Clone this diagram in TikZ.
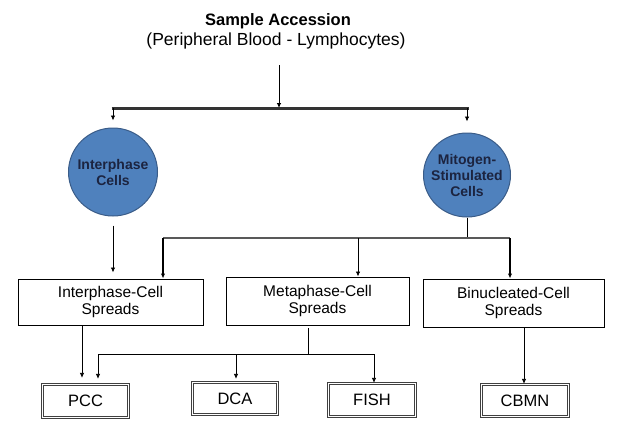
\documentclass[tikz,border=0pt]{standalone}
\usepackage{fontspec}
\setmainfont{Liberation Sans}
\usetikzlibrary{shapes.geometric,arrows.meta}
\definecolor{cellblue}{HTML}{4F81BD}
\definecolor{cellrim}{HTML}{3A5C88}
\definecolor{celltext}{HTML}{1C2440}

\begin{document}
\begin{tikzpicture}[x=1pt,y=-1pt,
  cell/.style={ellipse,draw=cellrim,line width=1pt,fill=cellblue,text=celltext,
    align=center,inner xsep=-6pt,inner ysep=-6pt,font=\fontsize{14}{16}\selectfont\bfseries},
  spread/.style={draw,line width=1pt,align=center,inner sep=0pt,
    font=\fontsize{15.5}{17}\selectfont},
  assay/.style={draw=black!75,double,double distance=1.3pt,line width=1.3pt,
    inner sep=0pt,font=\fontsize{16.5}{18}\selectfont},
  arr/.style={-{Latex[length=5pt,width=4.5pt]},line width=0.8pt},
  ]
\useasboundingbox (0,0) rectangle (629,432);

% sample
\node[font=\fontsize{16.5}{18}\selectfont\bfseries] (sample) at (278,21) {Sample Accession};
\node[font=\fontsize{17.5}{19}\selectfont] (source) at (276,41) {(Peripheral Blood - Lymphocytes)};

% cell types
\node[cell,minimum width=89pt,minimum height=88pt] (icell) at (113,172) {Interphase\\Cells};
\node[cell,minimum width=87pt,minimum height=84pt] (mcell) at (467,175) {Mitogen-\\Stimulated\\Cells};

% spreads
\node[spread,minimum width=185pt,minimum height=46pt] (ispread) at (110.5,302) {Interphase-Cell\\Spreads};
\node[spread,minimum width=183pt,minimum height=48pt] (mspread) at (317.5,301) {Metaphase-Cell\\Spreads};
\node[spread,minimum width=181pt,minimum height=48pt] (bspread) at (513.5,303) {Binucleated-Cell\\Spreads};

% assays
\node[assay,minimum width=86pt,minimum height=33pt] (pcc) at (85.5,401) {PCC};
\node[assay,minimum width=85pt,minimum height=32pt] (dca) at (235,398.5) {DCA};
\node[assay,minimum width=87pt,minimum height=33pt] (fish) at (372,400) {FISH};
\node[assay,minimum width=87pt,minimum height=32pt] (cbmn) at (525,400.5) {CBMN};

% sample -> cells
\coordinate (start) at (279,65);
\coordinate (split) at (279,108);
\draw[arr] (start) -- (split);
\draw[line width=3pt,black!80] ([xshift=-1.5pt]icell |- split) -- ([xshift=1.5pt]mcell |- split);
\draw[arr,shorten >=7pt] (icell |- split) -- (icell.north);
\draw[arr,shorten >=11pt] (mcell |- split) -- (mcell.north);

% cells -> spreads
\draw[arr,shorten >=6pt] (icell.south) ++(0,9) -- (icell |- ispread.north);
\coordinate (ijoin) at (163,238);
\coordinate (metajoin) at (358,238);
\coordinate (bjoin) at (510,238);
\draw[line width=0.8pt] (mcell.south) -- (mcell.south |- bjoin);
\draw[line width=1.5pt,black!65] (ijoin) -- (bjoin);
\draw[arr,line width=1.2pt] (ijoin) -- (ijoin |- ispread.north);
\draw[arr] (metajoin) -- (metajoin |- mspread.north);
\draw[arr,line width=1.2pt] (bjoin) -- (bjoin |- bspread.north);

% spreads -> assays
\coordinate (iout) at (82,326);
\draw[arr,shorten >=6pt] (iout) -- (iout |- pcc.north);
\coordinate (mout) at (308,328);
\coordinate (msplit) at (308,354);
\coordinate (pccin) at (98,354);
\coordinate (dcain) at (236,354);
\coordinate (fishin) at (374,354);
\draw[line width=0.8pt] (mout) -- (msplit);
\draw[line width=0.8pt] (pccin) -- (fishin);
\draw[arr,shorten >=5pt] (pccin) -- (pccin |- pcc.north);
\draw[arr,shorten >=3pt] (dcain) -- (dcain |- dca.north);
\draw[arr] (fishin) -- (fishin |- fish.north);
\coordinate (bout) at (524,327);
\draw[arr] (bout) -- (bout |- cbmn.north);

\end{tikzpicture}
\end{document}
